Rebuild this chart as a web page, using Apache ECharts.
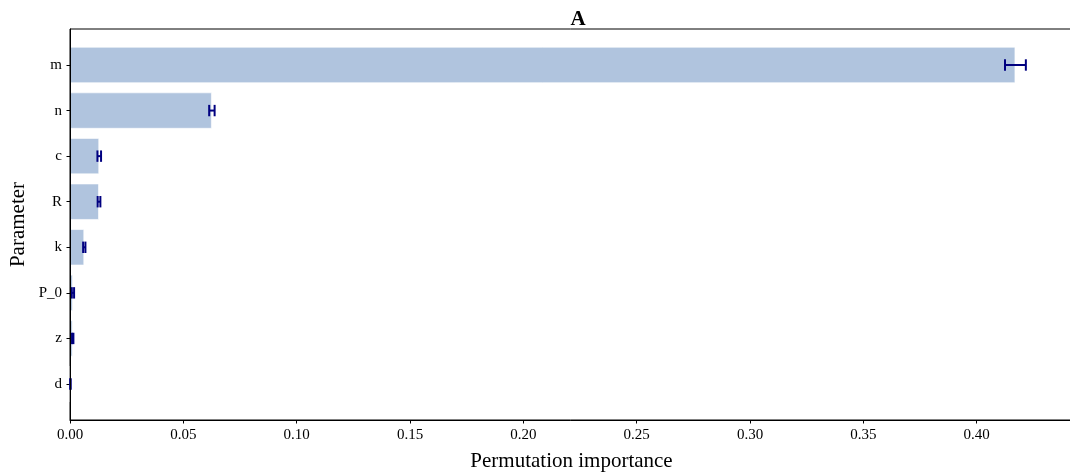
<!DOCTYPE html>
<html>
<head>
<meta charset="utf-8">
<script src="https://cdn.jsdelivr.net/npm/echarts@6/dist/echarts.min.js"></script>
<style>
  html, body { margin: 0; padding: 0; background: #fff; }
  #chart { width: 1070px; height: 475px; }
</style>
</head>
<body>
<div id="chart"></div>
<script>
  // parameters, top to bottom
  var params = ['m', 'n', 'c', 'R', 'k', 'P_0', 'z', 'd']
  var importance = [0.4171, 0.0626, 0.0129, 0.0128, 0.0063, 0.0013, 0.0012, 0.0002]
  var importanceStd = [0.0046, 0.0012, 0.0008, 0.0006, 0.0005, 0.0005, 0.0003, 0.0001]
  var xTicks = [0, 0.05, 0.10, 0.15, 0.20, 0.25, 0.30, 0.35, 0.40]

  var font = 'Liberation Serif'
  var xMax = 0.4425

  var errData = importance.map(function (v, i) {
    return [v - importanceStd[i], v + importanceStd[i], i]
  })

  var chart = echarts.init(document.getElementById('chart'))

  chart.setOption({
    backgroundColor: '#fff',
    animation: false,
    title: {
      text: 'A',
      left: 573,
      top: 4,
      textAlign: 'center',
      textStyle: {fontFamily: font, fontSize: 21, fontWeight: 'bold', color: '#000'}
    },
    grid: [
      // outer frame (matplotlib axes incl. margins)
      {left: 70, top: 29, width: 1003, height: 391, show: true, borderColor: '#000', borderWidth: 1,
        backgroundColor: 'transparent', containLabel: false, outerBoundsMode: 'none'},
      // band area for the 8 bars
      {left: 70, top: 42.2, width: 1003, height: 364.6, containLabel: false, outerBoundsMode: 'none'}
    ],
    xAxis: [
      {
        type: 'value', gridIndex: 0, min: 0, max: xMax, interval: 0.05, z: 10,
        axisLine: {show: true, lineStyle: {color: '#000', width: 1}},
        axisTick: {show: true, length: 3.5, lineStyle: {color: '#000'}},
        axisLabel: {
          fontFamily: font, fontSize: 15, color: '#000', margin: 8,
          formatter: function (v) {
            for (var i = 0; i < xTicks.length; i++) {
              if (Math.abs(v - xTicks[i]) < 1e-6) return xTicks[i].toFixed(2)
            }
            return ''
          }
        },
        splitLine: {show: false},
        name: 'Permutation importance',
        nameLocation: 'middle',
        nameGap: 31,
        nameTextStyle: {fontFamily: font, fontSize: 21, color: '#000'}
      },
      {type: 'value', gridIndex: 1, min: 0, max: xMax, show: false}
    ],
    yAxis: [
      {
        type: 'value', gridIndex: 0, z: 10,
        axisLine: {show: true, lineStyle: {color: '#000', width: 1}},
        axisTick: {show: false}, axisLabel: {show: false}, splitLine: {show: false},
        name: 'Parameter',
        nameLocation: 'middle',
        nameGap: 41,
        nameTextStyle: {fontFamily: font, fontSize: 21, color: '#000'}
      },
      {
        type: 'category', gridIndex: 1, data: params, inverse: true,
        axisLine: {show: false},
        axisTick: {show: true, alignWithLabel: true, length: 3.5, lineStyle: {color: '#000'}},
        axisLabel: {fontFamily: font, fontSize: 15, color: '#000', margin: 8},
        splitLine: {show: false}
      }
    ],
    series: [
      {
        type: 'bar',
        xAxisIndex: 1,
        yAxisIndex: 1,
        data: importance,
        barWidth: '80%',
        itemStyle: {color: '#b0c4de', borderColor: 'rgba(255,255,255,0.6)', borderWidth: 1}
      },
      {
        type: 'custom',
        xAxisIndex: 1,
        yAxisIndex: 1,
        data: errData,
        encode: {x: [0, 1], y: 2},
        z: 5,
        renderItem: function (params, api) {
          var lo = api.coord([api.value(0), api.value(2)])
          var hi = api.coord([api.value(1), api.value(2)])
          var cap = 5.7
          var style = {stroke: '#000080', lineWidth: 2}
          return {
            type: 'group',
            children: [
              {type: 'line', shape: {x1: lo[0], y1: lo[1], x2: hi[0], y2: hi[1]}, style: style},
              {type: 'line', shape: {x1: lo[0], y1: lo[1] - cap, x2: lo[0], y2: lo[1] + cap}, style: style},
              {type: 'line', shape: {x1: hi[0], y1: hi[1] - cap, x2: hi[0], y2: hi[1] + cap}, style: style}
            ]
          }
        }
      }
    ]
  })
</script>
</body>
</html>
